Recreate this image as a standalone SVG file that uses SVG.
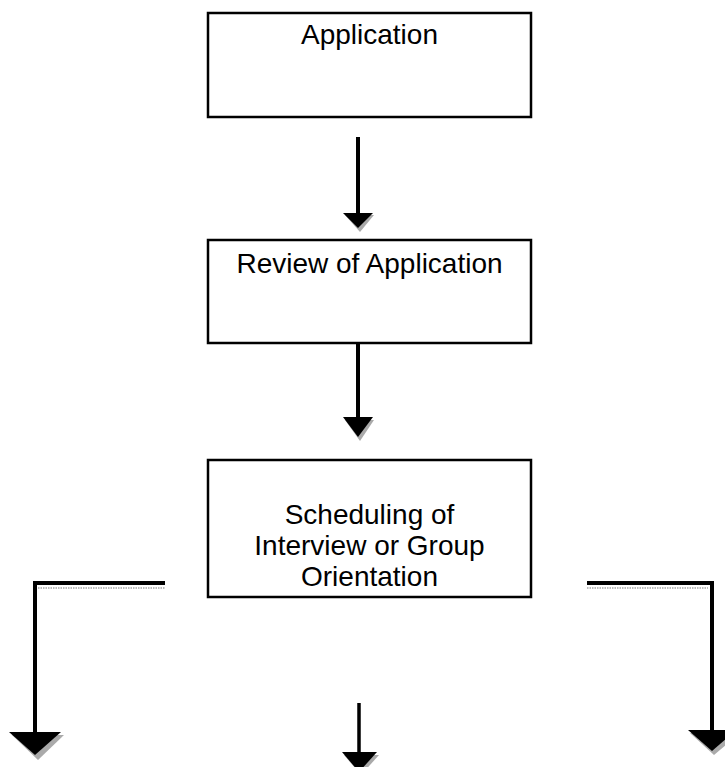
<svg xmlns="http://www.w3.org/2000/svg" width="725" height="767" viewBox="0 0 725 767">
<style>
.box{fill:#fff;stroke:#000;stroke-width:2.5}
.t{font-family:"Liberation Sans",Arial,sans-serif;font-size:28px;fill:#000;text-anchor:middle}
.shaft{stroke:#000;stroke-width:4;fill:none}
.head{fill:#000}
.shadow{fill:#aaa}
.shline{stroke:#bbb;stroke-width:2;stroke-dasharray:1.5 1;fill:none}
</style>
<rect width="725" height="767" fill="#fff"/>
<g id="n1"><rect class="box" x="208" y="13" width="323" height="104"/><text class="t" x="369.5" y="44">Application</text></g>
<g id="n2"><rect class="box" x="208" y="240" width="323" height="103"/><text class="t" x="369.5" y="273">Review of Application</text></g>
<g id="n3"><rect class="box" x="208" y="460" width="323" height="137"/><text class="t" x="369.5" y="524">Scheduling of</text><text class="t" x="369.5" y="555">Interview or Group</text><text class="t" x="369.5" y="586">Orientation</text></g>
<g id="connectors">
<polygon class="shadow" points="345,215 374,215 360,232"/>
<line class="shaft" x1="358" y1="137" x2="358" y2="215"/>
<polygon class="head" points="343,213 373,213 358,228"/>
<polygon class="shadow" points="345,420 374,420 360,441"/>
<line class="shaft" x1="358" y1="343" x2="358" y2="420"/>
<polygon class="head" points="343,417 373,417 358,437"/>
<line class="shline" x1="38" y1="588" x2="165" y2="588"/>
<polyline class="shaft" points="165,583 35,583 35,735"/>
<polygon class="shadow" points="12,735 64,735 38,760"/>
<polygon class="head" points="9,732 61,732 35,755"/>
<line class="shline" x1="587" y1="588" x2="708" y2="588"/>
<polyline class="shaft" points="587,583 712,583 712,733"/>
<polygon class="shadow" points="690,733 740,733 714,755"/>
<polygon class="head" points="688,730 736,730 712,751"/>
<line class="shaft" x1="359" y1="703" x2="359" y2="756" style="stroke-width:3.5"/>
<polygon class="shadow" points="344,755 379,755 361,775"/>
<polygon class="head" points="342,752 377,752 359,772"/>
</g>
</svg>
